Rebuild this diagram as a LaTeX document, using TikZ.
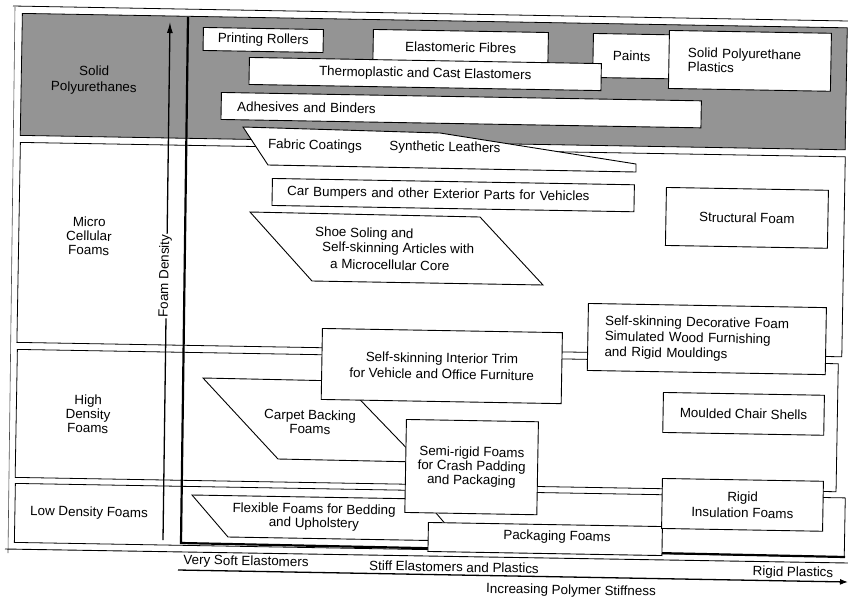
\documentclass[tikz,border=0pt]{standalone}
\usepackage{fontspec}
\setmainfont{Liberation Sans}
\usetikzlibrary{arrows.meta}
\begin{document}
\begin{tikzpicture}[x=1pt,y=-1pt,
  font=\fontsize{13.4}{14}\selectfont,
  band/.style={draw, line width=0.8pt, anchor=north west, rotate=-1, inner sep=0pt},
  box/.style={draw, fill=white, line width=0.9pt, anchor=north west, rotate=-1, inner sep=0pt, align=center},
  poly/.style={draw, fill=white, line width=0.9pt, line join=miter},
  txt/.style={rotate=-1, inner sep=0pt, align=center},
]
\useasboundingbox[fill=white] (0,0) rectangle (848,600);

% density bands
\node[band, fill=black!42, minimum width=825pt, minimum height=122pt] (solid) at (22,13) {};
\node[band, fill=white, minimum width=825pt, minimum height=200pt] (micro) at (20,142) {};
\node[band, fill=white, minimum width=821pt, minimum height=128pt] (high) at (17,349) {};
\node[band, fill=white, minimum width=830pt, minimum height=59pt] (low) at (15,483) {};

% frame lines
\coordinate (ft1) at (13,6); \coordinate (ft2) at (848,21);
\draw[line width=0.8pt] (ft1) -- (ft2);
\coordinate (fl1) at (15,7); \coordinate (fl2) at (8,553);
\draw[line width=0.6pt, black!70] (fl1) -- (fl2);
\coordinate (fb1) at (5,549); \coordinate (fb2) at (848,563);
\draw[line width=0.9pt] (fb1) -- (fb2);

% plot axes
\coordinate (ax1) at (188,17); \coordinate (ax0) at (181,543); \coordinate (ax2) at (845,557);
\draw[line width=2.2pt] (ax1) -- (ax0) -- (ax2);

\coordinate (fd0) at (163,540); \coordinate (fd1) at (170,22);
\draw[line width=1.3pt, -{Latex[length=11pt,width=6pt]}] (fd0) -- (fd1);
\node[txt, fill=white, rotate=90, inner sep=1pt] (fdl) at (165,276) {Foam Density};

\coordinate (sx0) at (178,570); \coordinate (sx1) at (848,582);
\draw[line width=1.3pt, -{Latex[length=8pt,width=6pt]}] (sx0) -- (sx1);

% left labels
\node[txt, font=\fontsize{13.4}{16}\selectfont] (lsolid) at (94,80) {Solid\\Polyurethanes};
\node[txt] (lmicro) at (89,236) {Micro\\Cellular\\Foams};
\node[txt] (lhigh) at (88,414) {High\\Density\\Foams};
\node[txt] (llow) at (89,513) {Low Density Foams};

% bottom labels
\node[txt] (vse) at (246,562) {Very Soft Elastomers};
\node[txt] (sep) at (454,567) {Stiff Elastomers and Plastics};
\node[txt] (rp) at (793,573) {Rigid Plastics};
\node[txt] (ips) at (571,591) {Increasing Polymer Stiffness};

% solid polyurethanes
\node[box, minimum width=120pt, minimum height=23pt] (pr) at (203,27) {Printing Rollers};
\node[box, minimum width=175pt, minimum height=33pt] (ef) at (373,29) {Elastomeric Fibres};
\node[box, minimum width=100pt, minimum height=44pt, text width=60pt, align=left] (pa) at (593,33) {Paints};
\node[box, minimum width=162pt, minimum height=58pt, text width=124pt, align=left] (spp) at (669,30) {Solid Polyurethane\\Plastics};
\node[box, minimum width=352pt, minimum height=27pt] (tce) at (249,57) {Thermoplastic and Cast Elastomers};
\node[box, minimum width=480pt, minimum height=27pt, text width=448pt, align=left] (ab) at (221,92) {Adhesives and Binders};

\draw[poly] (243,127) -- (440,133) -- (636,164) -- (636,172) -- (268,165) -- cycle;
\node[txt] (fct) at (315,146) {Fabric Coatings};
\node[txt] (slt) at (445,148) {Synthetic Leathers};

% micro cellular
\node[box, minimum width=362pt, minimum height=27pt, text width=332pt, align=left] (cb) at (272,178) {Car Bumpers and other Exterior Parts for Vehicles};
\draw[poly] (250,212) -- (480,217) -- (543,285) -- (312,281) -- cycle;
\node[txt, anchor=west] (ss1) at (315,233) {Shoe Soling and};
\node[txt, anchor=west] (ss2) at (322,248) {Self-skinning Articles with};
\node[txt, anchor=west] (ss3) at (330,264) {a Microcellular Core};
\node[box, minimum width=162pt, minimum height=58pt] (sf) at (666,187) {Structural Foam};
\node[box, minimum width=238pt, minimum height=67pt, text width=204pt, align=left, font=\fontsize{13.4}{15.5}\selectfont] (dec) at (588,303) {Self-skinning Decorative Foam\\Simulated Wood Furnishing\\and Rigid Mouldings};

% high density
\draw[poly] (203,378) -- (342,381) -- (420,462) -- (278,459) -- cycle;
\node[txt] (cbt) at (310,422) {Carpet Backing\\Foams};
\node[box, minimum width=240pt, minimum height=71pt, font=\fontsize{13.4}{16}\selectfont] (trim) at (322,328) {Self-skinning Interior Trim\\for Vehicle and Office Furniture};
\node[box, minimum width=161pt, minimum height=40pt] (mcs) at (663,392) {Moulded Chair Shells};

% low density
\draw[poly] (192,495) -- (424,499) -- (460,541) -- (228,537) -- cycle;
\node[txt] (fft) at (314,517) {Flexible Foams for Bedding\\and Upholstery};
\node[box, minimum width=132pt, minimum height=93pt] (semi) at (406,419) {Semi-rigid Foams\\for Crash Padding\\and Packaging};
\node[box, minimum width=234pt, minimum height=29pt] (pf) at (428,522) {};
\node[txt] (pft) at (557,537) {Packaging Foams};
\node[box, minimum width=161pt, minimum height=50pt, font=\fontsize{13.4}{16}\selectfont] (rif) at (662,478) {Rigid\\Insulation Foams};
\end{tikzpicture}
\end{document}
